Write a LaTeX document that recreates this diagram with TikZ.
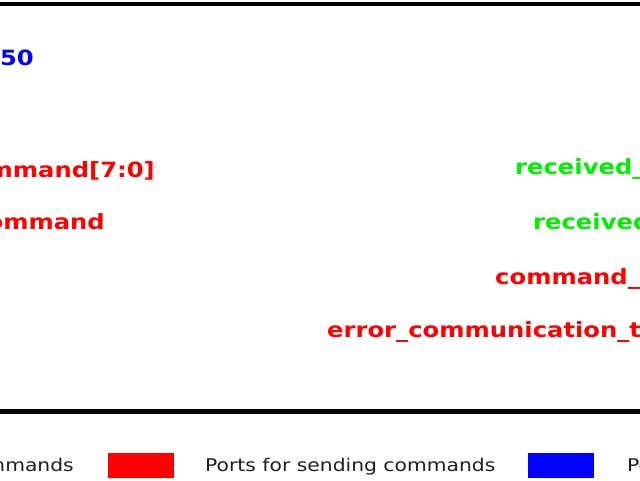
\documentclass[tikz,border=0pt]{standalone}
\usepackage{fontspec}
\setmainfont{DejaVu Sans}
\newfontfamily\portfont{DejaVu Sans Bold}[FakeStretch=1.155]
\newfontfamily\legfont{DejaVu Sans}[FakeStretch=1.16]
\definecolor{portred}{RGB}{255,0,0}
\definecolor{portgreen}{RGB}{0,238,0}
\definecolor{portblue}{RGB}{0,0,255}
\definecolor{legendtext}{RGB}{30,30,30}
\begin{document}
\begin{tikzpicture}[x=1pt,y=-1pt,
  port/.style={inner sep=0pt,font=\portfont\fontsize{21}{25}\selectfont},
  inport/.style={port,anchor=base east},
  outport/.style={port,anchor=base west},
  legtext/.style={inner sep=0pt,anchor=base west,text=legendtext,font=\legfont\fontsize{17.5}{21}\selectfont},
  legbox/.style={inner sep=0pt,minimum width=66pt,minimum height=25pt,anchor=north west},
  border/.style={line width=4.5pt,black}]
\useasboundingbox (0,0) rectangle (640,480);
\clip (0,0) rectangle (640,480);
\fill[white] (0,0) rectangle (640,480);
% module box (edges beyond the view)
\draw[border] (-60,4) rectangle (700,411.5);
% input ports
\node[inport,text=portblue] (clk) at (34,65) {clock\_50};
\node[inport,text=portred] (cmd) at (155,177) {command[7:0]};
\node[inport,text=portred] (send) at (105,229) {send\_command};
% output ports
\node[outport,text=portgreen] (rv) at (515,174) {received\_valid};
\node[outport,text=portgreen] (rb) at (533,229) {received\_byte};
\node[outport,text=portred] (cs) at (495,284) {command\_sent};
\node[outport,text=portred] (err) at (327,337) {error\_communication\_timeout};
% legend
\node[legtext,anchor=base east] (lg1) at (74,471) {Ports for receiving commands};
\node[legbox,fill=portred] (lb2) at (108,453) {};
\node[legtext] (lg2) at (205,471) {Ports for sending commands};
\node[legbox,fill=portblue] (lb3) at (528,453) {};
\node[legtext] (lg3) at (627,471) {Ports for clock};
\end{tikzpicture}
\end{document}
